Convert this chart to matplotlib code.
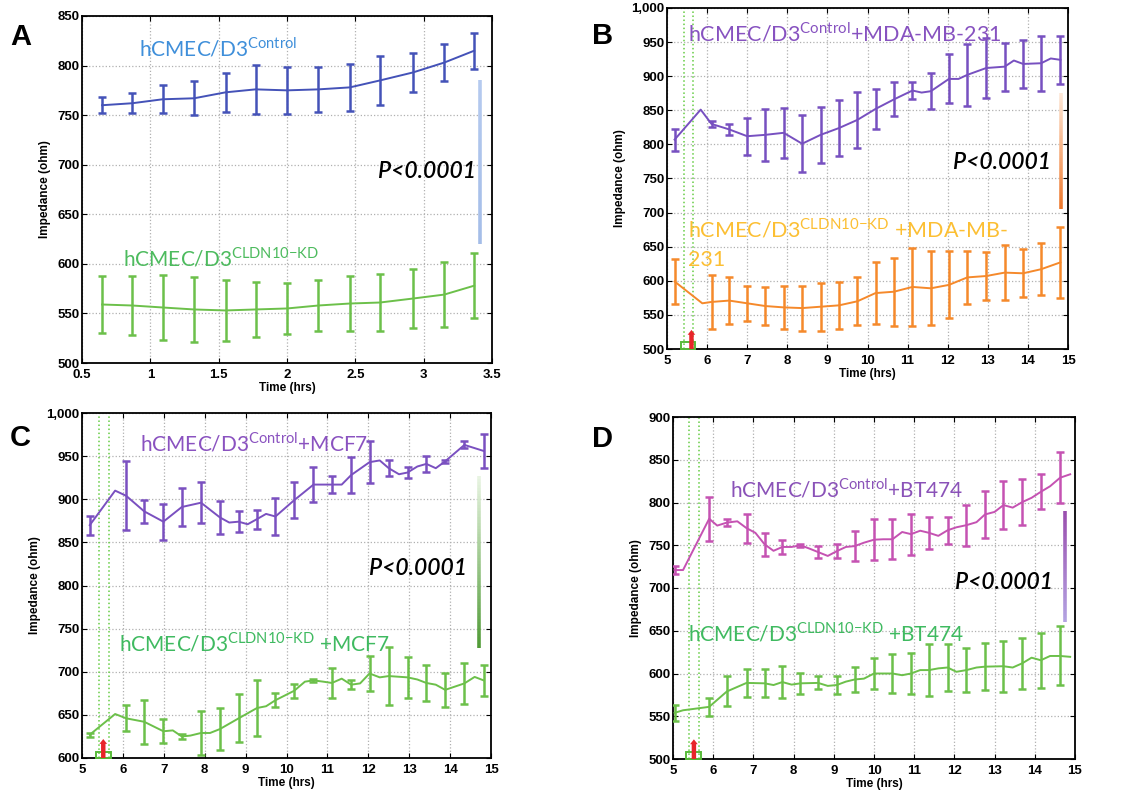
import numpy as np
import matplotlib
matplotlib.use('Agg')
import matplotlib.pyplot as plt
from matplotlib.collections import LineCollection
from matplotlib.colors import to_rgb
from matplotlib.patches import Rectangle
from matplotlib.ticker import FuncFormatter, MultipleLocator

nan = np.nan

# ---------------- Panel A ----------------
tA = [0.647, 0.867, 1.09, 1.32, 1.55, 1.77, 2.0, 2.23, 2.46, 2.68, 2.92, 3.15, 3.37]
ctrlA = [760, 762, 766, 767, 773, 776, 775, 776, 778, 785, 793, 803, 815]
ctrlA_err = [8, 10, 14, 17, 20, 25, 24, 23, 24, 25, 20, 19, 18]
kdA = [559, 558, 556, 554, 553, 554, 555, 558, 560, 561, 565, 569, 578]
kdA_err = [29, 30, 33, 33, 31, 28, 26, 26, 28, 29, 30, 33, 33]

# ---------------- Panel B ----------------
tB_c = [5.19, 5.84, 6.11, 6.55, 7.0, 7.45, 7.91, 8.37, 8.83, 9.29, 9.75, 10.2, 10.66,
        11.12, 11.35, 11.58, 12.03, 12.27, 12.49, 12.96, 13.42, 13.65, 13.88, 14.33, 14.57, 14.81]
ctrlB = [807, 851, 830, 822, 812, 814, 817, 801, 814, 824, 836, 852, 866,
         879, 876, 878, 896, 896, 902, 912, 914, 923, 918, 919, 926, 924]
ctrlB_err = [16, nan, 4, 8, 27, 38, 37, 42, 41, 41, 41, 29, 25,
             12, nan, 26, 36, nan, 45, 44, 35, nan, 35, 40, nan, 35]
tB_k = [5.19, 5.88, 6.11, 6.55, 7.0, 7.45, 7.91, 8.37, 8.83, 9.29, 9.75, 10.2, 10.66,
        11.12, 11.58, 12.03, 12.49, 12.96, 13.42, 13.88, 14.33, 14.81]
kdB = [599, 567, 569, 571, 567, 563, 561, 560, 562, 564, 570, 582, 584,
       591, 589, 594, 605, 607, 612, 611, 617, 627]
kdB_err = [33, nan, 40, 34, 26, 28, 31, 33, 35, 34, 35, 45, 50,
           57, 54, 49, 39, 35, 40, 35, 38, 52]

# ---------------- Panel C ----------------
tC_c = [5.19, 5.81, 6.08, 6.52, 6.99, 7.44, 7.91, 8.37, 8.6, 8.83, 9.05, 9.28, 9.5, 9.73,
        10.19, 10.4, 10.66, 11.11, 11.35, 11.58, 12.03, 12.28, 12.5, 12.75, 12.96, 13.2,
        13.42, 13.65, 13.88, 14.35, 14.82]
ctrlC = [870, 910, 904, 886, 874, 891, 896, 879, 873, 874, 871, 877, 883, 880,
         899, 907, 917, 917, 917, 928, 943, 945, 936, 929, 931, 938,
         941, 936, 944, 963, 956]
ctrlC_err = [11, nan, 40, 13, 21, 22, 24, 19, nan, 12.5, nan, 11, nan, 21,
             21, nan, 20, 9.5, nan, 21, 24, nan, 9, nan, 6, nan,
             9, nan, 2, 4, 20]
tC_k = [5.19, 5.81, 6.08, 6.52, 6.99, 7.22, 7.44, 7.65, 7.91, 8.13, 8.37, 8.83, 9.28, 9.5,
        9.73, 10.19, 10.45, 10.66, 10.9, 11.11, 11.35, 11.58, 11.8, 12.03, 12.28, 12.5,
        12.96, 13.2, 13.42, 13.65, 13.88, 14.35, 14.6, 14.82]
kdC = [627, 651, 646, 642, 631, 632, 625, 626, 629, 629, 633.5, 646, 658, 660,
       667, 678, 688.5, 690, 688.5, 687, 692, 685, 686.5, 698, 693.5, 695,
       693.5, 691, 687, 685, 679, 686.5, 694, 690]
kdC_err = [2.5, nan, 15, 25.5, 14, nan, 3, nan, 26, nan, 24.5, 28, 33, nan,
           8, 8, nan, 1.5, nan, 17.5, nan, 5.5, nan, 20, nan, 34,
           24, nan, 21, nan, 20, 24, nan, 18]

# ---------------- Panel D ----------------
tD_c = [5.04, 5.25, 5.9, 6.1, 6.34, 6.6, 6.83, 7.05, 7.28, 7.5, 7.72, 7.95, 8.17, 8.4,
        8.61, 8.85, 9.07, 9.3, 9.52, 9.75, 10.0, 10.23, 10.46, 10.7, 10.92, 11.15, 11.37,
        11.6, 11.83, 12.05, 12.3, 12.55, 12.76, 13.0, 13.22, 13.45, 13.69, 13.92, 14.15,
        14.38, 14.63, 14.88]
ctrlD = [721, 721, 781, 773, 776.5, 778, 770, 764.5, 751, 743.5, 748, 748, 750, 746,
         742, 737.5, 743, 748, 749, 753, 756.5, 757, 757, 765.5, 763, 767, 764.5,
         761, 767.5, 771, 773.5, 777, 786, 789, 797, 794, 800.5, 805.5, 812.5,
         819, 829, 833]
ctrlD_err = [5, nan, 26, nan, 4.5, nan, 17, nan, 13, nan, 8, nan, 1.5, nan,
             7, nan, 8, nan, 17.5, nan, 24, nan, 23.5, nan, 24, nan, 19,
             nan, 16, nan, 24, nan, 28, nan, 28, nan, 27, nan, 20.5,
             nan, 30, nan]
tD_k = [5.04, 5.25, 5.5, 5.9, 6.34, 6.83, 7.28, 7.5, 7.72, 7.95, 8.17, 8.61, 8.85, 9.07,
        9.3, 9.52, 9.75, 10.0, 10.46, 10.7, 10.92, 11.15, 11.37, 11.6, 11.83, 12.05,
        12.3, 12.55, 12.76, 13.22, 13.45, 13.69, 13.92, 14.15, 14.38, 14.63, 14.88]
kdD = [554, 557, 558.5, 561, 579, 589, 588.5, 586.5, 590, 587, 588.5, 589, 585.5, 586.5,
       590.5, 593, 594, 600, 600, 598, 600, 604, 604, 606, 607, 602,
       604, 607, 608, 608.5, 607, 612, 618.5, 615.5, 620.5, 620.5, 619.5]
kdD_err = [9, nan, nan, 10.5, 17.5, 16, 16.5, nan, 19, nan, 12.5, 7.5, nan, 11,
           nan, 15, nan, 18, 22.5, nan, 24, nan, 30, nan, 27, nan,
           26, nan, 27.5, 30, nan, 30, nan, 32, nan, 34.5, nan]

# label texts
SUP_CTRL = '$^{\\mathregular{Control}}$'
SUP_KD = '$^{\\mathregular{CLDN10{-}KD}}$'
lab_ctrl_A = 'hCMEC/D3' + SUP_CTRL
lab_kd_A = 'hCMEC/D3' + SUP_KD
lab_ctrl_B = 'hCMEC/D3' + SUP_CTRL + '+MDA-MB-231'
lab_kd_B1 = 'hCMEC/D3' + SUP_KD + ' +MDA-MB-'
lab_kd_B2 = '231'
lab_ctrl_C = 'hCMEC/D3' + SUP_CTRL + '+MCF7'
lab_kd_C = 'hCMEC/D3' + SUP_KD + ' +MCF7'
lab_ctrl_D = 'hCMEC/D3' + SUP_CTRL + '+BT474'
lab_kd_D = 'hCMEC/D3' + SUP_KD + ' +BT474'
p_text = 'P<0.0001'

plt.rcParams['font.family'] = ['Liberation Sans', 'DejaVu Sans']
plt.rcParams['font.weight'] = 'bold'
plt.rcParams['axes.labelweight'] = 'bold'

LFONT = ['Lato', 'DejaVu Sans']

fig = plt.figure(figsize=(11.24, 7.93), dpi=100)
W, H = 1124.0, 793.0


def make_ax(l, t, r, b):
    return fig.add_axes([l / W, 1 - b / H, (r - l) / W, (b - t) / H])


def setup(ax, xlim, ylim, xstep, ystep):
    ax.set_xlim(xlim)
    ax.set_ylim(ylim)
    ax.xaxis.set_major_locator(MultipleLocator(xstep))
    ax.yaxis.set_major_locator(MultipleLocator(ystep))
    ax.xaxis.set_major_formatter(FuncFormatter(lambda v, p: f'{v:g}'))
    ax.yaxis.set_major_formatter(FuncFormatter(lambda v, p: f'{int(round(v)):,}'))
    ax.grid(True, color='#b0b0b0', linestyle=':', linewidth=0.9)
    ax.set_axisbelow(True)
    ax.tick_params(direction='in', top=True, right=True, length=3.5, width=0.8,
                   labelsize=9.5, pad=2)
    ax.tick_params(axis='x', pad=4)
    ax.set_xlabel('Time (hrs)', fontsize=8.5, labelpad=1)
    ax.set_ylabel('Impedance (ohm)', fontsize=8.5, labelpad=4)
    for s in ax.spines.values():
        s.set_linewidth(1.3)


def draw_series(ax, t, m, e, color):
    t = np.asarray(t, float)
    m = np.asarray(m, float)
    e = np.asarray(e, float)
    ax.plot(t, m, color=color, lw=1.4, zorder=3)
    ok = ~np.isnan(e)
    ax.errorbar(t[ok], m[ok], yerr=e[ok], fmt='none', ecolor=color, elinewidth=1.8,
                capsize=3.2, capthick=1.8, zorder=3)


def grad_bar(ax, x, y0, y1, c0, c1, lw=2.6):
    ys = np.linspace(y0, y1, 60)
    segs = [[(x, ys[i]), (x, ys[i + 1])] for i in range(len(ys) - 1)]
    a0, a1 = np.array(to_rgb(c0)), np.array(to_rgb(c1))
    fr = np.linspace(0, 1, len(segs))
    cols = [tuple(a0 + (a1 - a0) * f) for f in fr]
    ax.add_collection(LineCollection(segs, colors=cols, linewidths=lw, zorder=4,
                                     capstyle='butt'))


def label(ax, x, y, s, color, size=15):
    ax.text(x, y, s, color=color, fontsize=size, family=LFONT, fontweight='normal',
            va='baseline', ha='left', zorder=5)


def ptext(ax, x, y):
    ax.text(x, y, p_text, fontsize=16.5, style='italic', family=LFONT, fontweight='semibold',
            ha='right', va='center', color='black', zorder=5)


def markers(ax, lines_x, arrow_x, arrow_top, box_x, box_w, box_h, ybot):
    for lx in lines_x:
        ax.axvline(lx, color='#66cc44', linestyle=':', lw=1.1, zorder=2)
    ax.add_patch(Rectangle((box_x, ybot), box_w, box_h, fill=False, edgecolor='#58bb3a',
                           lw=1.4, zorder=4, clip_on=False))
    ax.annotate('', xy=(arrow_x, arrow_top), xytext=(arrow_x, ybot),
                arrowprops=dict(facecolor='#e8252a', edgecolor='none', width=3.2,
                                headwidth=5.5, headlength=3.5, shrink=0), zorder=5)


# ---------------- A ----------------
axA = make_ax(82, 16, 492, 363)
setup(axA, (0.5, 3.5), (500, 850), 0.5, 50)
draw_series(axA, tA, ctrlA, ctrlA_err, '#4452b8')
draw_series(axA, tA, kdA, kdA_err, '#6cc04a')
label(axA, 0.92, 809, lab_ctrl_A, '#3f8fda')
label(axA, 0.80, 598, lab_kd_A, '#4dbb5e')
ptext(axA, 3.38, 693)
grad_bar(axA, 3.41, 785, 620, '#b5caef', '#a4bde8')

# ---------------- B ----------------
axB = make_ax(667, 8, 1068, 349)
setup(axB, (5, 15), (500, 1000), 1, 50)
markers(axB, [5.42, 5.65], 5.61, 528, 5.34, 0.36, 10, 500)
draw_series(axB, tB_c, ctrlB, ctrlB_err, '#7750c0')
draw_series(axB, tB_k, kdB, kdB_err, '#f5892b')
label(axB, 5.52, 951, lab_ctrl_B, '#8752c0', 15.5)
label(axB, 5.52, 664, lab_kd_B1, '#fcbf33', 15.5)
label(axB, 5.52, 621, lab_kd_B2, '#fcbf33', 15.5)
ptext(axB, 14.58, 773)
grad_bar(axB, 14.83, 875, 705, '#fde8d8', '#ee782c')

# ---------------- C ----------------
axC = make_ax(82, 413, 491, 758)
setup(axC, (5, 15), (600, 1000), 1, 50)
markers(axC, [5.41, 5.66], 5.52, 622, 5.35, 0.35, 7, 600)
draw_series(axC, tC_c, ctrlC, ctrlC_err, '#7a50c0')
draw_series(axC, tC_k, kdC, kdC_err, '#6cc04a')
label(axC, 6.43, 955, lab_ctrl_C, '#8a52c0')
label(axC, 5.9, 724, lab_kd_C, '#3fba60')
ptext(axC, 14.41, 820)
grad_bar(axC, 14.7, 927, 727, '#e8f4e2', '#4f9a35')

# ---------------- D ----------------
axD = make_ax(673, 417, 1075, 759)
setup(axD, (5, 15), (500, 900), 1, 50)
markers(axD, [5.4, 5.65], 5.52, 523, 5.33, 0.37, 8, 500)
draw_series(axD, tD_c, ctrlD, ctrlD_err, '#c552b2')
draw_series(axD, tD_k, kdD, kdD_err, '#6cc04a')
label(axD, 6.41, 806, lab_ctrl_D, '#8a52b8')
label(axD, 5.37, 638, lab_kd_D, '#3fba60')
ptext(axD, 14.46, 707)
grad_bar(axD, 14.75, 790, 660, '#9a4fae', '#b3a3e2')

# panel letters
for letter, px, py in [('A', 10, 45), ('B', 592, 44), ('C', 10, 446), ('D', 592, 447)]:
    fig.text(px / W, 1 - py / H, letter, fontsize=21, fontweight='bold', va='baseline',
             ha='left', color='black')

fig.savefig('out.png', dpi=100)
